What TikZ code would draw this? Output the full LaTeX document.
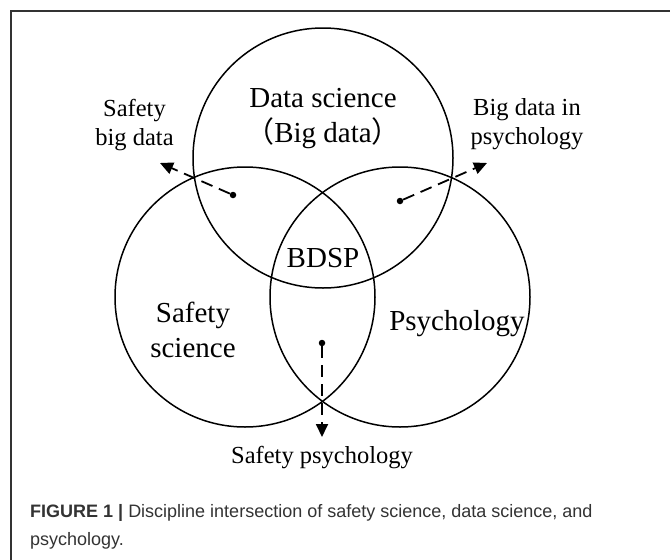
\documentclass[tikz,border=0pt]{standalone}
\usepackage{fontspec}
\setmainfont{Liberation Serif}
\newfontfamily\capfont{Liberation Sans}
\newfontfamily\cjk{Noto Sans CJK SC}
\usetikzlibrary{arrows.meta}
\begin{document}
\begin{tikzpicture}[x=1pt,y=-1pt,
  venn/.style={circle,draw=black,line width=1.5pt,minimum size=260pt,inner sep=0pt},
  biglabel/.style={font=\fontsize{29}{35}\selectfont,inner sep=0pt,align=center},
  smalllabel/.style={font=\fontsize{24.5}{29.5}\selectfont,inner sep=0pt,align=center},
  dotmark/.style={circle,fill=black,inner sep=0pt,minimum size=6.5pt},
  flow/.style={line width=1.8pt,dash pattern=on 12pt off 7pt,-{Triangle[length=13pt,width=12pt]}},
  frameline/.style={draw=black!80,line width=1.5pt},
  caption/.style={anchor=north west,inner sep=0pt,align=left,text=black!80,font=\capfont\fontsize{18}{28}\selectfont}]
\useasboundingbox (0,0) rectangle (670,560);
\fill[white] (0,0) rectangle (670,560);
\draw[frameline] (11,560) -- (11,11) -- (670,11);
% circles
\node[venn] (data) at (323,158) {};
\node[venn] (safety) at (245,297) {};
\node[venn] (psych) at (400,297) {};
% circle labels
\node[biglabel] (datalbl) at (323,119) {Data science\\{\cjk （}Big data{\cjk ）}};
\node[biglabel] (safelbl) at (193,329.5) {Safety\\science};
\node[biglabel,anchor=base] (psylbl) at (457,330) {Psychology};
\node[biglabel,anchor=base] (bdsp) at (323,267) {BDSP};
% intersection labels
\node[smalllabel] (sbd) at (134.5,125) {Safety\\big data};
\node[smalllabel] (bdp) at (527,124) {Big data in\\psychology};
\node[smalllabel,anchor=base] (sp) at (322,463) {Safety psychology};
% dots and arrows
\node[dotmark] (d1) at (233,195) {};
\node[dotmark] (d2) at (400,201) {};
\node[dotmark] (d3) at (322,343) {};
\coordinate (t1) at (160,163);
\coordinate (t2) at (487,163);
\coordinate (t3) at (322,437);
\draw[flow] (d1) -- (t1);
\draw[flow] (d2) -- (t2);
\draw[flow] (d3) -- (t3);
% caption
\node[caption] (cap) at (30,504) {\textbf{FIGURE 1 |} Discipline intersection of safety science, data science, and\\psychology.};
\end{tikzpicture}
\end{document}
